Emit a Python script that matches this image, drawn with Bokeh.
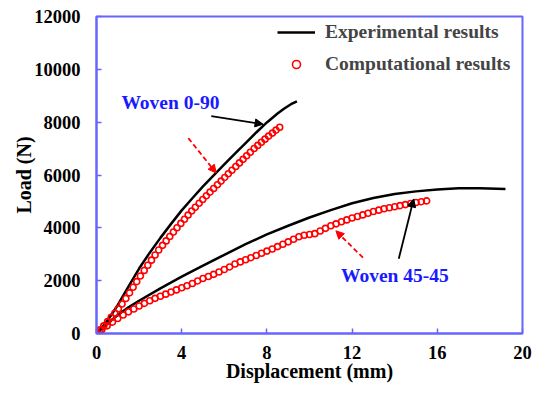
from bokeh.plotting import figure
from bokeh.models import Range1d, FixedTicker, Legend, LegendItem, Arrow, NormalHead, Label
from bokeh.embed import file_html
from bokeh.resources import INLINE

# ---------------- data ----------------
exp_0_90_x = [0, 0.5, 1.0, 1.5, 2.0, 2.5, 3.0, 3.5, 4.0, 4.5, 5.0, 5.5, 6.0, 6.5, 7.0, 7.5, 8.0, 8.5, 8.8, 9.13, 9.41]
exp_0_90_y = [0, 470, 1080, 1770, 2460, 3060, 3620, 4150, 4660, 5120, 5570, 5990, 6400, 6810, 7210, 7610, 7990, 8330, 8510, 8680, 8790]

comp_0_90_x = [0, 0.17, 0.34, 0.52, 0.69, 0.86, 1.03, 1.20, 1.38, 1.55, 1.72, 1.89, 2.06, 2.24, 2.41,
               2.58, 2.75, 2.92, 3.10, 3.27, 3.44, 3.61, 3.78, 3.96, 4.13, 4.30, 4.47, 4.64, 4.82, 4.99,
               5.16, 5.33, 5.50, 5.68, 5.85, 6.02, 6.19, 6.36, 6.54, 6.71, 6.88, 7.05, 7.22, 7.40, 7.57,
               7.74, 7.91, 8.08, 8.26, 8.43, 8.60]
comp_0_90_y = [0, 144, 288, 451, 610, 769, 933, 1118, 1323, 1536, 1750, 1963, 2177, 2388, 2582,
               2776, 2970, 3160, 3337, 3505, 3673, 3841, 4002, 4168, 4325, 4482, 4637, 4778, 4928, 5070,
               5212, 5351, 5488, 5633, 5770, 5908, 6045, 6182, 6324, 6458, 6592, 6726, 6860, 7002, 7121,
               7239, 7358, 7472, 7587, 7697, 7806]

exp_45_x = [0, 0.5, 1.0, 1.5, 2.0, 3.0, 4.0, 5.0, 6.0, 7.0, 8.0, 9.0, 10.0, 11.0, 12.0, 13.0, 14.0, 15.0, 16.0, 17.0, 18.0, 19.2]
exp_45_y = [0, 370, 700, 990, 1240, 1710, 2150, 2570, 2980, 3380, 3750, 4080, 4390, 4670, 4930, 5130, 5280, 5380, 5450, 5500, 5500, 5470]

comp_45_x = [0, 0.25, 0.5, 0.75, 1.0, 1.25, 1.5, 1.75, 2.0, 2.25, 2.5, 2.75, 3.0, 3.25, 3.5, 3.75,
             4.0, 4.25, 4.5, 4.75, 5.0, 5.25, 5.5, 5.75, 6.0, 6.25, 6.5, 6.75, 7.0, 7.25, 7.5, 7.75,
             8.0, 8.25, 8.5, 8.75, 9.0, 9.25, 9.5, 9.75, 10.0, 10.25, 10.5, 10.75, 11.0, 11.25, 11.5,
             11.75, 12.0, 12.25, 12.5, 12.75, 13.0, 13.25, 13.5, 13.75, 14.0, 14.25, 14.5, 14.75, 15.0,
             15.25, 15.5]
comp_45_y = [0, 150, 290, 430, 570, 700, 820, 930, 1040, 1140, 1240, 1330, 1410, 1490, 1570, 1650,
             1730, 1810, 1890, 1990, 2080, 2160, 2240, 2330, 2420, 2520, 2630, 2710, 2790, 2870, 2950, 3040,
             3120, 3200, 3290, 3380, 3470, 3570, 3660, 3720, 3750, 3780, 3880, 3980, 4080, 4150, 4230,
             4300, 4370, 4430, 4490, 4550, 4620, 4670, 4720, 4760, 4800, 4840, 4880, 4920, 4960,
             4990, 5020]

x_ticks = [0, 4, 8, 12, 16, 20]
y_ticks = [0, 2000, 4000, 6000, 8000, 10000, 12000]

# annotation positions (data units)
lbl_0_90 = (1.17, 8755, "Woven 0-90")
lbl_45 = (11.48, 2190, "Woven 45-45")
arr_black_0_90 = (5.39, 8226, 7.82, 7925)
arr_red_0_90 = (4.31, 7396, 5.62, 6075)
arr_black_45 = (14.19, 2830, 14.89, 5094)
arr_red_45 = (12.51, 2868, 11.24, 3887)

BLUE = "#6666ff"
FONT = "Liberation Serif"

p = figure(width=549, height=393, output_backend="svg", toolbar_location=None,
           x_range=Range1d(0, 20), y_range=Range1d(0, 12000),
           min_border_left=96, min_border_right=27, min_border_top=16, min_border_bottom=60)

p.xgrid.visible = False
p.ygrid.visible = False
p.outline_line_color = BLUE
p.outline_line_width = 2
p.background_fill_color = "white"
p.border_fill_color = "white"

for ax in (p.xaxis[0], p.yaxis[0]):
    ax.axis_line_color = BLUE
    ax.axis_line_width = 2
    ax.major_tick_line_color = BLUE
    ax.major_tick_line_width = 1.5
    ax.major_tick_in = 5
    ax.major_tick_out = 0
    ax.minor_tick_line_color = None
    ax.major_label_text_font = FONT
    ax.major_label_text_font_style = "bold"
    ax.major_label_text_font_size = "18.5px"
    ax.major_label_text_color = "black"
    ax.axis_label_text_font = FONT
    ax.axis_label_text_font_style = "bold"
    ax.axis_label_text_font_size = "20px"
    ax.axis_label_text_color = "black"

p.xaxis.ticker = FixedTicker(ticks=x_ticks)
p.yaxis.ticker = FixedTicker(ticks=y_ticks)
p.xaxis.axis_label = "Displacement (mm)"
p.yaxis.axis_label = "Load (N)"
p.xaxis.major_label_standoff = 12
p.yaxis.major_label_standoff = 16
p.xaxis.axis_label_standoff = -2
p.yaxis.axis_label_standoff = -4

l1 = p.line(exp_0_90_x, exp_0_90_y, line_color="black", line_width=2.5)
p.line(exp_45_x, exp_45_y, line_color="black", line_width=2.5)
c1 = p.scatter(comp_0_90_x, comp_0_90_y, marker="circle", size=6, line_color="red", line_width=1.6, fill_color=None)
p.scatter(comp_45_x, comp_45_y, marker="circle", size=6, line_color="red", line_width=1.6, fill_color=None)

# arrows
for (xs, ys, xe, ye) in (arr_black_0_90, arr_black_45):
    p.add_layout(Arrow(x_start=xs, y_start=ys, x_end=xe, y_end=ye, line_color="black", line_width=1.8,
                       end=NormalHead(size=8, fill_color="black", line_color="black")))
for (xs, ys, xe, ye) in (arr_red_0_90, arr_red_45):
    p.add_layout(Arrow(x_start=xs, y_start=ys, x_end=xe, y_end=ye, line_color="red", line_width=1.8,
                       line_dash="5 3",
                       end=NormalHead(size=8, fill_color="red", line_color="red")))

for (x, y, t) in (lbl_0_90, lbl_45):
    p.add_layout(Label(x=x, y=y, text=t, text_font=FONT, text_font_style="bold", text_font_size="19.5px",
                       text_color="#1a1aff", text_baseline="middle", text_align="left"))

legend = Legend(items=[LegendItem(label="Experimental results", renderers=[l1]),
                       LegendItem(label="Computational results", renderers=[c1])],
                location=(181, 258), padding=0, margin=0, spacing=10,
                glyph_width=38, glyph_height=20, label_height=20, label_standoff=10,
                label_text_font=FONT, label_text_font_style="bold", label_text_font_size="19.5px",
                border_line_color=None, background_fill_alpha=0)
p.add_layout(legend)

open("out.html", "w").write(file_html(p, INLINE))
